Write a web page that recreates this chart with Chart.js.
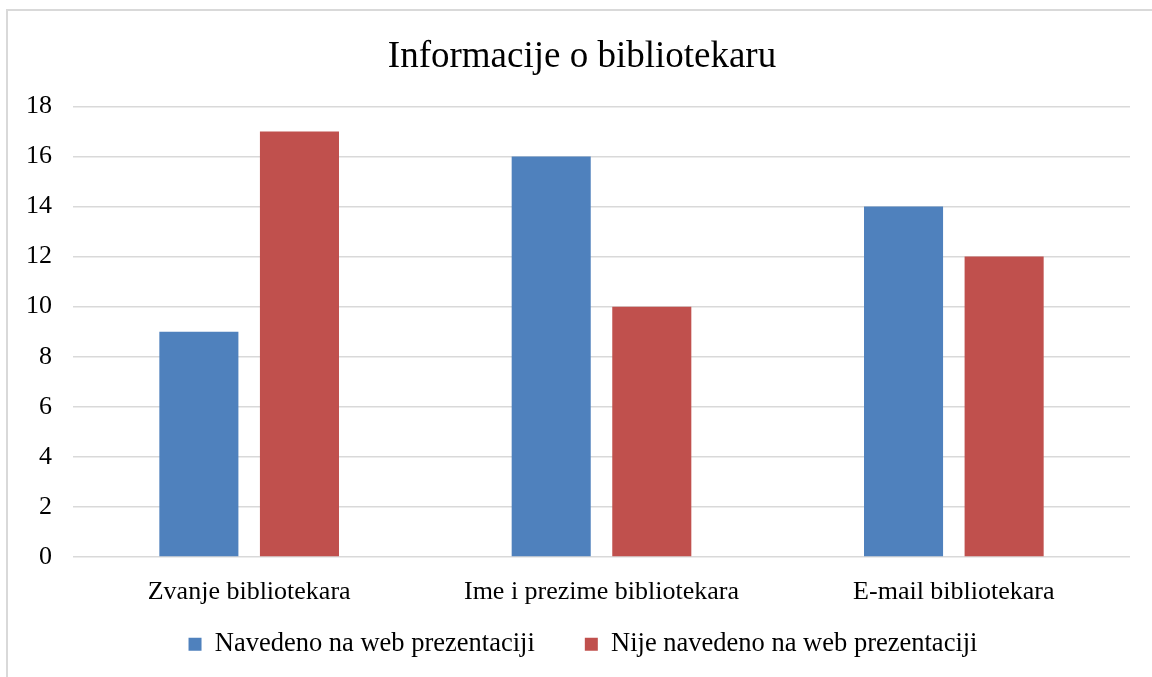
<!DOCTYPE html>
<html>
<head>
<meta charset="utf-8">
<script src="https://cdn.jsdelivr.net/npm/chart.js@4/dist/chart.umd.min.js"></script>
<style>
  html, body { margin: 0; padding: 0; background: #fff; }
  #wrap { position: relative; width: 1152px; height: 677px; overflow: hidden; }
  #frame { position: absolute; left: 6px; top: 9px; width: 1160px; height: 700px; border: 2px solid #d9d9d9; box-sizing: border-box; }
  canvas { position: absolute; left: 0; top: 0; }
</style>
</head>
<body>
<div id="wrap">
  <div id="frame"></div>
  <canvas id="c" width="1152" height="677"></canvas>
</div>
<script>
const categories = ["Zvanje bibliotekara", "Ime i prezime bibliotekara", "E-mail bibliotekara"];
const seriesNames = ["Navedeno na web prezentaciji", "Nije navedeno na web prezentaciji"];
const navedeno = [9, 16, 14];
const nijeNavedeno = [17, 10, 12];
const yTicks = [0, 2, 4, 6, 8, 10, 12, 14, 16, 18];

const serif = "'Liberation Serif', 'Times New Roman', serif";

// Nudges the title and legend boxes after layout (positions only).
const placeBoxes = {
  id: 'placeBoxes',
  afterLayout(chart) {
    const t = chart.titleBlock;
    if (t) { t.left += 17; t.right += 17; }
    const l = chart.legend;
    if (l) {
      l.top = 581; l.bottom = 667; l.height = 86;
      l.left += 18; l.right += 18;
    }
  }
};

new Chart(document.getElementById('c'), {
  type: 'bar',
  data: {
    labels: categories,
    datasets: [
      { label: seriesNames[0], data: navedeno, backgroundColor: '#4F81BD' },
      { label: seriesNames[1], data: nijeNavedeno, backgroundColor: '#C0504D' }
    ]
  },
  plugins: [placeBoxes],
  options: {
    responsive: false,
    animation: false,
    devicePixelRatio: 1,
    layout: { padding: { left: 0, right: 22, top: 35, bottom: 18 } },
    datasets: { bar: { categoryPercentage: 0.571, barPercentage: 0.786 } },
    plugins: {
      title: {
        display: true,
        text: 'Informacije o bibliotekaru',
        color: '#000',
        font: { family: serif, size: 37, weight: 'normal' },
        padding: { top: 0, bottom: 27 }
      },
      legend: {
        position: 'bottom',
        maxHeight: 50,
        labels: {
          color: '#000',
          font: { family: serif, size: 26.5 },
          boxWidth: 13,
          boxHeight: 13,
          padding: 50
        }
      },
      tooltip: { enabled: false }
    },
    scales: {
      x: {
        afterFit: (s) => { s.height = 52; },
        grid: { display: false },
        border: { display: false },
        ticks: { color: '#000', font: { family: serif, size: 26 }, padding: 12 }
      },
      y: {
        min: 0,
        max: 18,
        afterFit: (s) => { s.width = 73; },
        afterBuildTicks: (s) => { s.ticks = yTicks.map(v => ({ value: v })); },
        grid: { color: '#d9d9d9', lineWidth: 1.5, drawTicks: false },
        border: { display: false },
        ticks: { color: '#000', font: { family: serif, size: 26 }, padding: 21 }
      }
    }
  }
});
</script>
</body>
</html>
